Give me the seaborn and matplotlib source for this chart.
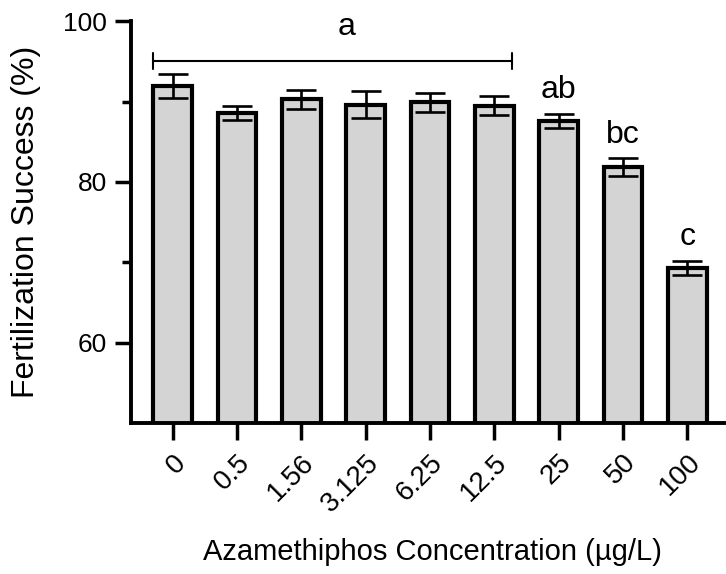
import matplotlib
matplotlib.use("Agg")
import matplotlib.pyplot as plt
import seaborn as sns
import pandas as pd

# Fertilization success per azamethiphos concentration (mean ± SEM)
concentrations = ["0", "0.5", "1.56", "3.125", "6.25", "12.5", "25", "50", "100"]
success_mean = [91.9, 88.6, 90.3, 89.6, 89.9, 89.5, 87.6, 81.9, 69.3]
success_err = [1.5, 0.9, 1.2, 1.7, 1.2, 1.2, 0.9, 1.1, 0.9]
group_letters = ["", "", "", "", "", "", "ab", "bc", "c"]
bracket_letter = "a"

sns.set_theme(style="ticks")
plt.rcParams["font.family"] = ["Liberation Sans", "DejaVu Sans"]
for key in ["text.color", "axes.labelcolor", "xtick.color", "ytick.color", "axes.edgecolor"]:
    plt.rcParams[key] = "black"

df = pd.DataFrame({"conc": concentrations, "success": success_mean})

fig = plt.figure(figsize=(7.26, 5.74), dpi=100)
ax = fig.add_axes([0.180, 0.263, 0.820, 0.700])

sns.barplot(data=df, x="conc", y="success", order=concentrations,
            color="#d4d4d4", saturation=1, width=0.6, errorbar=None,
            edgecolor="black", linewidth=3.0, ax=ax)

xs = list(range(len(concentrations)))
ax.errorbar(xs, success_mean, yerr=success_err, fmt="none", ecolor="black",
            elinewidth=1.9, capsize=11, capthick=1.9, zorder=3)

# Letters for significance groups
for x, m, e, lab in zip(xs, success_mean, success_err, group_letters):
    if lab:
        ax.text(x, m + e + 1.9, lab, ha="center", va="baseline", fontsize=23)

# Bracket spanning the concentrations in group "a"
y_br = 95.0
ax.plot([-0.31, 5.27], [y_br, y_br], color="black", lw=1.5)
ax.plot([-0.31, -0.31], [y_br - 1.0, y_br + 1.0], color="black", lw=1.5)
ax.plot([5.27, 5.27], [y_br - 1.0, y_br + 1.0], color="black", lw=1.5)
ax.text(2.7, 98.3, bracket_letter, ha="center", va="baseline", fontsize=23)

ax.set_xlim(-0.65, 8.6)
ax.set_ylim(50, 100)
ax.set_yticks([60, 80, 100])
ax.set_yticks([70, 90], minor=True)

for side in ["top", "right"]:
    ax.spines[side].set_visible(False)
for side in ["left", "bottom"]:
    ax.spines[side].set_linewidth(2.8)

ax.tick_params(axis="y", which="major", length=11.5, width=2.5, labelsize=19, pad=5.5)
ax.tick_params(axis="y", which="minor", length=6.5, width=2.5)
ax.tick_params(axis="x", length=12.5, width=2.5, labelsize=20, pad=6.5)
plt.setp(ax.get_xticklabels(), rotation=45, ha="right", rotation_mode="anchor")

ax.set_xlabel("Azamethiphos Concentration (\u00b5g/L)", fontsize=21)
ax.set_ylabel("Fertilization Success (%)", fontsize=23)
ax.xaxis.set_label_coords(0.507, -0.286)
ax.yaxis.set_label_coords(-0.151, 0.5)

fig.savefig("out.png", dpi=100)
